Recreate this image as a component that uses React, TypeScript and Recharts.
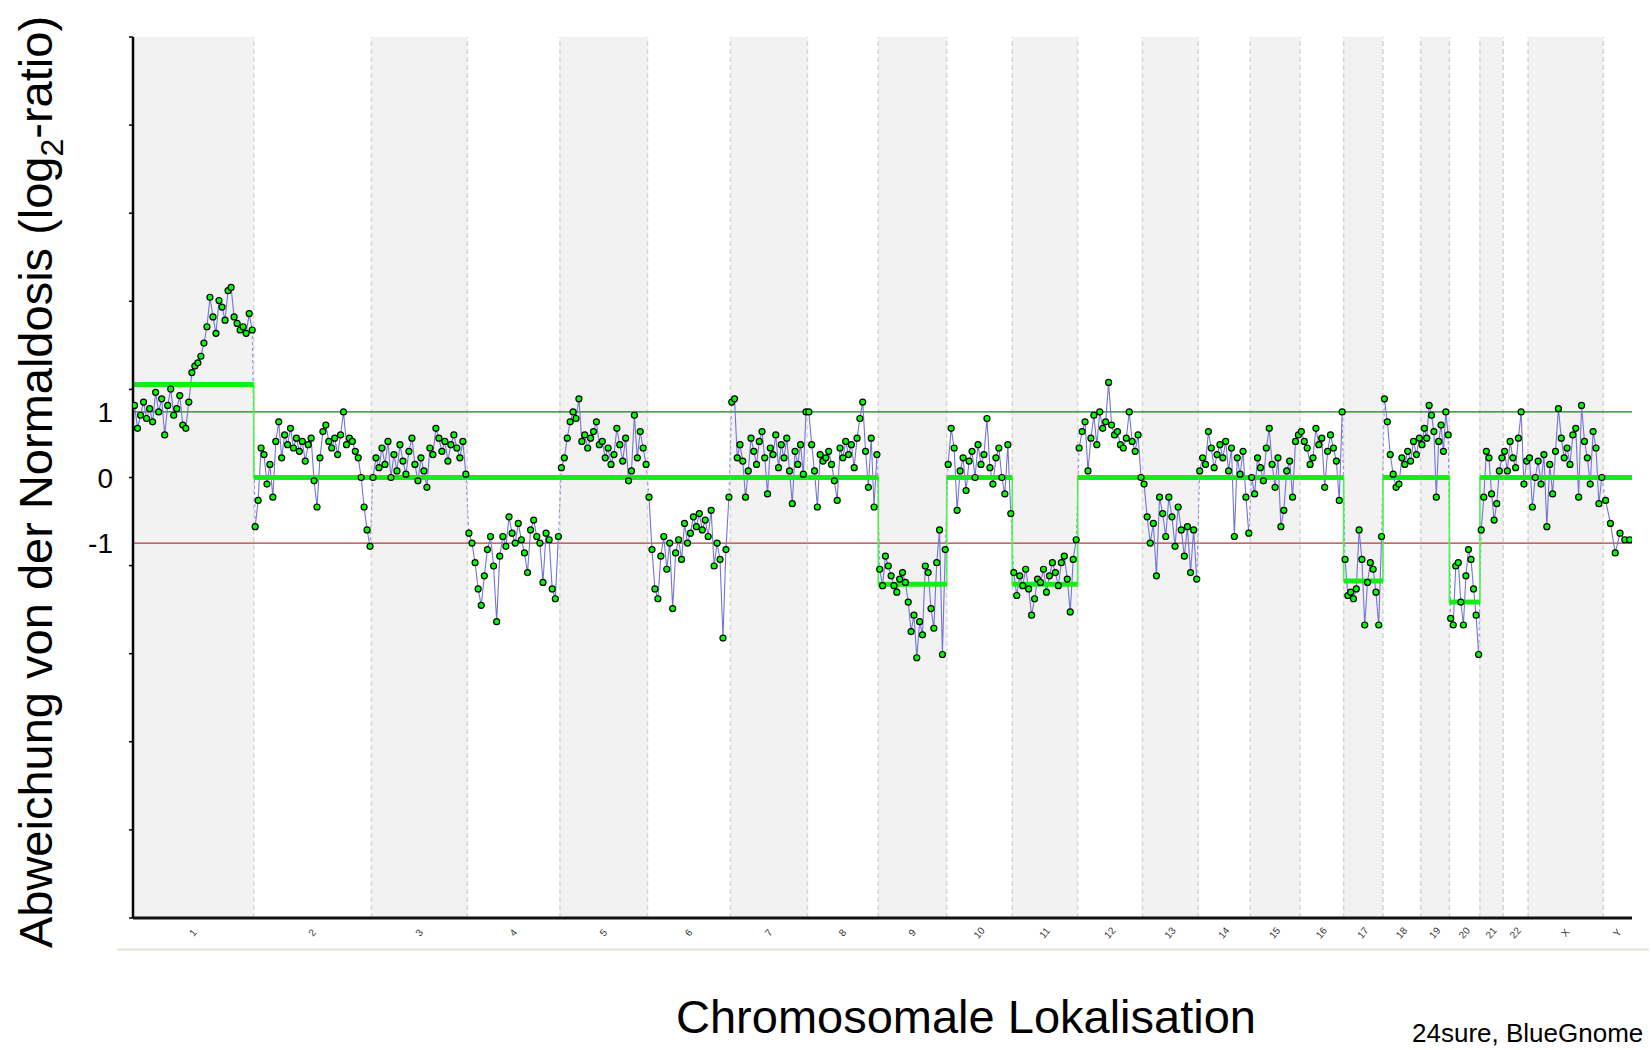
import React from 'react';
import { ComposedChart, Line, XAxis, YAxis, ReferenceArea, ReferenceLine } from 'recharts';

// chromosome names and lengths (Mb, hg19)
const chromNames = ['1', '2', '3', '4', '5', '6', '7', '8', '9', '10', '11', '12', '13', '14', '15', '16', '17', '18', '19', '20', '21', '22', 'X', 'Y'];
const chromLengths = [249.3, 243.2, 198.0, 191.2, 180.9, 171.1, 159.1, 146.4, 141.2, 135.5, 135.0, 133.9, 115.2, 107.3, 102.5, 90.4, 81.2, 78.1, 59.1, 63.0, 48.1, 51.3, 155.3, 59.4];

// segmentation level per chromosome (log2 ratio)
const segmentLevels = [1.42, 0, 0, 0, 0, 0, 0, 0, -1.63, 0, -1.63, 0, 0, 0, 0, 0, -1.58, 0, 0, -1.9, 0, 0, 0, 0];

const yTickMarks = [-6.72, -5.376, -4.032, -2.688, -1.344, 0, 1.344, 2.688, 4.032, 5.376, 6.72];
const yTickLabels = [1, 0, -1];

// probe values (log2 ratio) read along each chromosome
const chr1 = [1.1, 0.75, 0.95, 1.15, 0.9, 1.05, 0.85, 1.3, 1.0, 1.2, 0.65, 1.1, 1.35, 0.95, 1.05, 1.25, 0.8, 0.75, 1.15, 1.6, 1.7, 1.75, 1.85, 2.05, 2.3, 2.75, 2.45, 2.2, 2.7, 2.6, 2.4, 2.85, 2.9, 2.45, 2.35, 2.25, 2.3, 2.2, 2.5, 2.25];
const chr2 = [-0.75, -0.35, 0.45, 0.35, -0.1, 0.2, -0.3, 0.55, 0.85, 0.3, 0.65, 0.5, 0.75, 0.45, 0.6, 0.4, 0.55, 0.25, 0.5, 0.6, -0.05, -0.45, 0.3, 0.7, 0.8, 0.55, 0.45, 0.6, 0.35, 0.65, 1.0, 0.5, 0.6, 0.55, 0.4, 0.3, 0.0, -0.45, -0.8, -1.05];
const chr3 = [0.0, 0.3, 0.15, 0.45, 0.2, 0.55, 0.0, 0.35, 0.1, 0.5, 0.25, 0.05, 0.4, 0.6, 0.2, -0.05, 0.3, 0.1, -0.15, 0.45, 0.35, 0.75, 0.6, 0.4, 0.55, 0.25, 0.5, 0.65, 0.45, 0.3, 0.55, 0.05];
const chr4 = [-0.85, -1.0, -1.3, -1.7, -1.95, -1.5, -1.1, -0.9, -1.35, -2.2, -1.2, -0.9, -1.05, -0.6, -0.85, -1.0, -0.7, -0.95, -1.15, -1.45, -0.8, -0.65, -0.9, -1.0, -1.6, -0.85, -0.95, -1.7, -1.85, -0.9];
const chr5 = [0.15, 0.3, 0.6, 0.85, 1.0, 0.9, 1.2, 0.55, 0.65, 0.45, 0.6, 0.7, 0.85, 0.5, 0.55, 0.3, 0.45, 0.2, 0.35, 0.75, 0.5, 0.25, 0.6, -0.05, 0.1, 0.95, 0.3, 0.7, 0.45, 0.2];
const chr6 = [-0.3, -1.1, -1.7, -1.85, -1.2, -0.9, -1.4, -1.0, -2.0, -1.15, -0.95, -1.25, -0.7, -1.0, -0.85, -0.6, -0.75, -0.55, -0.8, -0.65, -0.9, -0.5, -1.35, -1.0, -1.25, -2.45, -1.1, -0.3];
const chr7 = [1.15, 1.2, 0.3, 0.5, 0.25, -0.3, 0.1, 0.6, 0.4, 0.2, 0.55, 0.7, 0.3, -0.25, 0.45, 0.35, 0.65, 0.15, 0.5, 0.3, 0.6, 0.1, -0.4, 0.4, 0.2, 0.5, 0.05, 1.0];
const chr8 = [1.0, 0.5, 0.1, -0.45, 0.35, 0.25, 0.3, 0.4, 0.2, -0.05, -0.35, 0.45, 0.3, 0.55, 0.35, 0.5, 0.15, 0.6, 0.9, 1.15, 0.4, -0.15, 0.6, -0.45, 0.35];
const chr9 = [-1.4, -1.65, -1.2, -1.35, -1.5, -1.65, -1.75, -1.55, -1.45, -1.6, -1.9, -2.35, -2.1, -2.75, -2.2, -2.4, -1.35, -1.45, -2.0, -2.3, -1.3, -0.8, -2.7, -1.1];
const chr10 = [0.2, 0.75, 0.45, -0.5, 0.1, 0.3, -0.2, 0.25, 0.4, 0.0, 0.5, 0.2, 0.35, 0.9, 0.15, -0.1, 0.3, 0.45, 0.0, -0.25, 0.5, -0.55];
const chr11 = [-1.45, -1.8, -1.5, -1.65, -1.4, -1.7, -2.1, -1.85, -1.55, -1.6, -1.4, -1.75, -1.5, -1.3, -1.45, -1.65, -1.3, -1.2, -1.55, -2.05, -1.25, -0.95];
const chr12 = [0.45, 0.7, 0.85, 0.1, 0.6, 0.95, 0.5, 1.0, 0.75, 0.85, 1.45, 0.8, 0.65, 0.7, 0.5, 0.45, 0.6, 1.0, 0.55, 0.4, 0.65, 0.0];
const chr13 = [-0.1, -0.6, -1.0, -0.7, -1.5, -0.3, -0.55, -0.9, -0.3, -0.6, -1.05, -0.45, -0.8, -1.2, -0.75, -1.45, -0.8, -1.55];
const chr14 = [0.1, 0.3, 0.2, 0.7, 0.45, 0.15, 0.35, 0.5, 0.3, 0.55, 0.1, 0.45, -0.9, 0.3, 0.05, 0.4, -0.3, -0.85];
const chr15 = [0.0, -0.25, 0.3, 0.15, -0.05, 0.45, 0.75, 0.2, -0.15, 0.3, -0.75, -0.5, 0.1, 0.25, -0.3, 0.55, 0.65];
const chr16 = [0.7, 0.55, 0.45, 0.2, 0.3, 0.75, 0.5, 0.6, -0.15, 0.4, 0.65, 0.45, 0.25, -0.35, 1.0];
const chr17 = [-1.25, -1.8, -1.75, -1.85, -1.7, -0.8, -1.25, -2.25, -1.6, -1.3, -1.4, -1.75, -2.25, -0.9];
const chr18 = [1.2, 0.85, 0.35, 0.05, -0.15, -0.1, 0.3, 0.2, 0.4, 0.25, 0.55, 0.35, 0.6];
const chr19 = [0.5, 0.75, 0.6, 1.1, 0.95, 0.7, -0.3, 0.55, 0.8, 0.4, 1.0, 0.65];
const chr20 = [-2.15, -2.25, -1.35, -1.3, -1.9, -2.25, -1.5, -1.1, -1.25, -1.7, -2.1, -2.7];
const chr21 = [-0.8, -0.3, 0.4, 0.3, -0.25, -0.65, -0.4, 0.1, 0.3];
const chr22 = [0.4, 0.1, 0.55, 0.3, 0.15, 0.6, 1.0, -0.1, 0.25];
const chrX = [0.3, -0.45, 0.0, 0.25, -0.1, 0.35, -0.75, 0.2, -0.25, 0.4, 1.05, 0.6, 0.3, 0.45, 0.2, 0.65, 0.75, -0.3, 1.1, 0.55, 0.3, -0.1, 0.7, 0.45, -0.4, 0.0];
const chrY = [-0.35, -0.7, -1.15, -0.85, -0.95, -0.95];

const chromValues = [chr1, chr2, chr3, chr4, chr5, chr6, chr7, chr8, chr9, chr10, chr11, chr12, chr13, chr14, chr15, chr16, chr17, chr18, chr19, chr20, chr21, chr22, chrX, chrY];

const starts: number[] = [];
let acc = 0;
chromLengths.forEach((l) => {
  starts.push(acc);
  acc += l;
});
const genomeLength = acc;
const centers = chromLengths.map((l, i) => starts[i] + l / 2);
const boundaries = starts.slice(1);

// probes spread evenly along their chromosome
const chromSeries = chromValues.map((vals, c) =>
  vals.map((v, i) => ({ x: starts[c] + ((i + 0.5) / vals.length) * chromLengths[c], y: v }))
);

// dashed joins between last probe of one chromosome and first of the next
const connectors: { x: number; y: number | null }[] = [];
for (let c = 0; c < chromSeries.length - 1; c++) {
  const a = chromSeries[c][chromSeries[c].length - 1];
  const b = chromSeries[c + 1][0];
  connectors.push(a, b, { x: b.x, y: null });
}

const stepPoints: { x: number; y: number }[] = [];
segmentLevels.forEach((lv, c) => {
  stepPoints.push({ x: starts[c], y: lv }, { x: starts[c] + chromLengths[c], y: lv });
});

const yTicks = Array.from(new Set([...yTickMarks, ...yTickLabels])).sort((a, b) => a - b);

const FONT = '"Liberation Sans", Arial, sans-serif';

const YTick = (props: any) => {
  const { x, y, payload } = props;
  const v = payload.value;
  const hasMark = yTickMarks.includes(v);
  const hasLabel = yTickLabels.includes(v);
  return (
    <g>
      {hasMark && <line x1={x - 4} x2={x} y1={y} y2={y} stroke="#000" strokeWidth={1.5} />}
      {hasLabel && (
        <text x={x - 20} y={y} dy={10} textAnchor="end" fontSize={28} fontFamily={FONT} fill="#000">
          {v}
        </text>
      )}
    </g>
  );
};

const XTick = (props: any) => {
  const { x, y, payload } = props;
  const idx = centers.findIndex((c) => Math.abs(c - payload.value) < 0.01);
  const ty = y + 15;
  return (
    <text x={x} y={ty} dy={3} transform={`rotate(-50 ${x} ${ty})`} textAnchor="middle" fontSize={10} fontFamily={FONT} fill="#333">
      {chromNames[idx]}
    </text>
  );
};

export default function App() {
  return (
    <div style={{ position: 'absolute', left: 0, top: 0, width: 1651, height: 1050, background: '#fff', fontFamily: FONT }}>
      <ComposedChart width={1651} height={1050} margin={{ top: 37, right: 19, bottom: 0, left: 0 }}>
        <XAxis
          type="number"
          dataKey="x"
          domain={[0, genomeLength]}
          ticks={centers}
          interval={0}
          tick={<XTick />}
          tickLine={false}
          tickSize={0}
          tickMargin={0}
          axisLine={{ stroke: '#111', strokeWidth: 3 }}
          height={132}
          allowDataOverflow
        />
        <YAxis
          type="number"
          domain={[-6.72, 6.72]}
          ticks={yTicks}
          interval={0}
          tick={<YTick />}
          tickLine={false}
          tickSize={0}
          tickMargin={0}
          axisLine={{ stroke: '#000', strokeWidth: 2.5 }}
          width={133}
          allowDataOverflow
        />
        {chromLengths.map((l, i) =>
          i % 2 === 0 ? (
            <ReferenceArea key={`band-${i}`} x1={starts[i]} x2={starts[i] + l} y1={-6.72} y2={6.72} fill="#f2f2f2" fillOpacity={1} stroke="none" />
          ) : null
        )}
        {boundaries.map((b, i) => (
          <ReferenceLine key={`bd-${i}`} x={b} stroke="#d6d6d6" strokeWidth={1.5} strokeDasharray="5 3" />
        ))}
        <ReferenceLine y={1} stroke="#1d7a1d" strokeWidth={1.2} />
        <ReferenceLine y={-1} stroke="#b03a3a" strokeWidth={1.2} />
        <Line
          data={connectors}
          dataKey="y"
          stroke="#8c8ce6"
          strokeWidth={1}
          strokeDasharray="3 3"
          dot={false}
          connectNulls={false}
          isAnimationActive={false}
        />
        {chromSeries.map((pts, c) => (
          <Line
            key={`chr-${c}`}
            data={pts}
            dataKey="y"
            stroke="#7373dc"
            strokeWidth={1.1}
            dot={{ r: 3, fill: '#00ff00', stroke: '#000', strokeWidth: 1.2, fillOpacity: 1 }}
            isAnimationActive={false}
          />
        ))}
        <Line data={stepPoints} dataKey="y" stroke="#4cf54c" strokeWidth={1.6} dot={false} isAnimationActive={false} />
        {segmentLevels.map((lv, c) => (
          <ReferenceLine
            key={`seg-${c}`}
            segment={[
              { x: starts[c], y: lv },
              { x: starts[c] + chromLengths[c], y: lv },
            ]}
            stroke="#14ee14"
            strokeWidth={5}
          />
        ))}
      </ComposedChart>
      <div style={{ position: 'absolute', left: 117, top: 948, width: 1532, height: 3, background: '#ebebe3' }} />
      <div
        style={{
          position: 'absolute',
          left: 40,
          top: 482,
          transform: 'translate(-50%, -50%) rotate(-90deg)',
          whiteSpace: 'nowrap',
          fontSize: 47,
          lineHeight: 1,
          color: '#000',
        }}
      >
        Abweichung von der Normaldosis (log<sub style={{ fontSize: 32 }}>2</sub>-ratio)
      </div>
      <div
        style={{
          position: 'absolute',
          left: 966,
          top: 1016,
          transform: 'translate(-50%, -50%)',
          whiteSpace: 'nowrap',
          fontSize: 47,
          lineHeight: 1,
          color: '#000',
        }}
      >
        Chromosomale Lokalisation
      </div>
      <div style={{ position: 'absolute', left: 1412, top: 1020, whiteSpace: 'nowrap', fontSize: 26, lineHeight: 1, color: '#000' }}>
        24sure, BlueGnome
      </div>
    </div>
  );
}
